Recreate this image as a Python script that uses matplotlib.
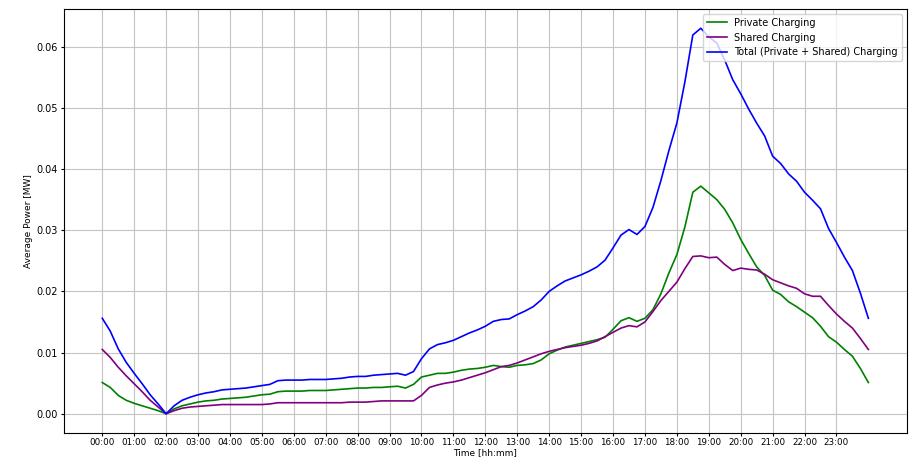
import numpy as np
import matplotlib
matplotlib.use("Agg")
import matplotlib.pyplot as plt

# Average daily charging power, sampled every 15 minutes (00:00 .. 24:00)
hours = [i / 4 for i in range(97)]

private_mw = [
    0.0051, 0.0043, 0.0030, 0.0022, 0.0017, 0.0013, 0.0009, 0.0005,
    0.0000, 0.0008, 0.0013, 0.0016, 0.0019, 0.0021, 0.0022, 0.0024,
    0.0025, 0.0026, 0.0027, 0.0029, 0.0031, 0.0032, 0.0036, 0.0037,
    0.0037, 0.0037, 0.0038, 0.0038, 0.0038, 0.0039, 0.0040, 0.0041,
    0.0042, 0.0042, 0.0043, 0.0043, 0.0044, 0.0045, 0.0042, 0.0048,
    0.0060, 0.0063, 0.0066, 0.0066, 0.0068, 0.0071, 0.0073, 0.0074,
    0.0076, 0.0079, 0.0077, 0.0076, 0.0079, 0.0080, 0.0082, 0.0088,
    0.0098, 0.0104, 0.0109, 0.0112, 0.0115, 0.0118, 0.0121, 0.0125,
    0.0138, 0.0152, 0.0157, 0.0151, 0.0156, 0.0170, 0.0196, 0.0230,
    0.0260, 0.0305, 0.0362, 0.0372, 0.0361, 0.0350, 0.0334, 0.0312,
    0.0285, 0.0262, 0.0240, 0.0226, 0.0202, 0.0195, 0.0183, 0.0175,
    0.0166, 0.0157, 0.0143, 0.0126, 0.0117, 0.0105, 0.0094, 0.0074,
    0.0051,
]

shared_mw = [
    0.0105, 0.0092, 0.0076, 0.0062, 0.0049, 0.0036, 0.0022, 0.0011,
    0.0000, 0.0005, 0.0009, 0.0011, 0.0012, 0.0013, 0.0014, 0.0015,
    0.0015, 0.0015, 0.0015, 0.0015, 0.0015, 0.0016, 0.0018, 0.0018,
    0.0018, 0.0018, 0.0018, 0.0018, 0.0018, 0.0018, 0.0018, 0.0019,
    0.0019, 0.0019, 0.0020, 0.0021, 0.0021, 0.0021, 0.0021, 0.0021,
    0.0030, 0.0043, 0.0047, 0.0050, 0.0052, 0.0055, 0.0059, 0.0063,
    0.0067, 0.0072, 0.0077, 0.0079, 0.0083, 0.0088, 0.0093, 0.0098,
    0.0102, 0.0105, 0.0108, 0.0110, 0.0112, 0.0115, 0.0119, 0.0126,
    0.0133, 0.0140, 0.0144, 0.0142, 0.0150, 0.0167, 0.0185, 0.0200,
    0.0215, 0.0237, 0.0257, 0.0258, 0.0255, 0.0256, 0.0244, 0.0234,
    0.0238, 0.0236, 0.0235, 0.0228, 0.0219, 0.0214, 0.0209, 0.0205,
    0.0196, 0.0192, 0.0192, 0.0177, 0.0163, 0.0151, 0.0140, 0.0123,
    0.0105,
]

tick_hours = list(range(24))
tick_labels = [f"{h:02d}:00" for h in tick_hours]

private = np.array(private_mw)
shared = np.array(shared_mw)
total = private + shared

fig = plt.figure(figsize=(9.14, 4.61), dpi=100)
ax = fig.add_axes([0.070, 0.0607, 0.922, 0.9198])

ax.plot(hours, private, color="green", lw=1.2, label="Private Charging")
ax.plot(hours, shared, color="purple", lw=1.2, label="Shared Charging")
ax.plot(hours, total, color="blue", lw=1.2,
        label="Total (Private + Shared) Charging")

ax.set_xticks(tick_hours)
ax.set_xticklabels(tick_labels)
ax.tick_params(axis="x", labelsize=6.3, length=2, pad=1.5)
ax.tick_params(axis="y", labelsize=7, length=2.5, pad=2)
ax.set_xlabel("Time [hh:mm]", fontsize=6.5, labelpad=1)
ax.set_ylabel("Average Power [MW]", fontsize=6.5, labelpad=2)
ax.grid(True, color="#c4c4c4", lw=0.8)
ax.legend(loc="upper right", fontsize=7)

fig.savefig("out.png", dpi=100)
